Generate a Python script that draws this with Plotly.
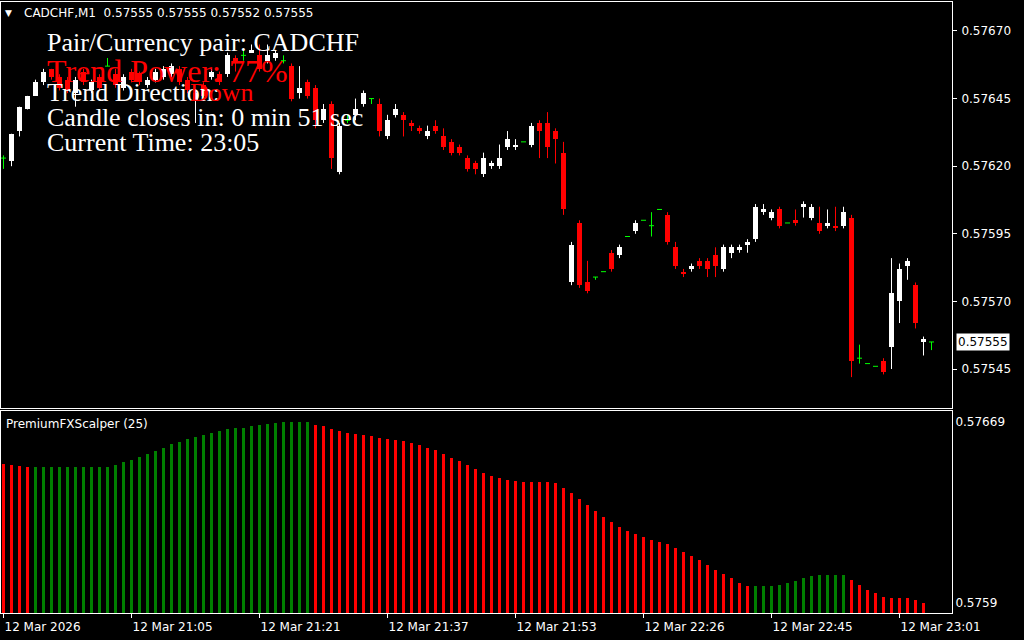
import plotly.graph_objects as go

# ---------------- data ----------------
symbol = "CADCHF,M1"
header_ohlc = ["0.57555", "0.57555", "0.57552", "0.57555"]

opens = [0.57623, 0.57622, 0.57633, 0.57641, 0.57646, 0.57651, 0.57656, 0.57653, 0.57652, 0.57647,
         0.57655, 0.57648, 0.57653, 0.57657, 0.57654, 0.57649, 0.57655, 0.57654, 0.57650, 0.57652,
         0.57653, 0.57654, 0.57656, 0.57652, 0.57644, 0.57650, 0.57653, 0.57654, 0.57654, 0.57660,
         0.57661, 0.57662, 0.57661, 0.57659, 0.57660, 0.57659, 0.57657, 0.57647, 0.57651, 0.57649,
         0.57637, 0.57643, 0.57618, 0.57637, 0.57639, 0.57643, 0.57645, 0.57643, 0.57631, 0.57639,
         0.57639, 0.57636, 0.57634, 0.57631, 0.57635, 0.57631, 0.57629, 0.57627, 0.57623, 0.57621,
         0.57617, 0.57620, 0.57620, 0.57627, 0.57627, 0.57629, 0.57628, 0.57636, 0.57636, 0.57633,
         0.57625, 0.57577, 0.57599, 0.57577, 0.57579, 0.57581, 0.57588, 0.57587, 0.57594, 0.57596,
         0.57600, 0.57598, 0.57604, 0.57602, 0.57590, 0.57581, 0.57582, 0.57585, 0.57585, 0.57587,
         0.57582, 0.57588, 0.57589, 0.57591, 0.57593, 0.57603, 0.57601, 0.57604, 0.57599, 0.57600,
         0.57605, 0.57601, 0.57599, 0.57598, 0.57598, 0.57598, 0.57601, 0.57549, 0.57547, 0.57546,
         0.57548, 0.57553, 0.57570, 0.57583, 0.57576, 0.57555, 0.57555]
highs = [0.57624, 0.57632, 0.57642, 0.57646, 0.57652, 0.57656, 0.57656, 0.57654, 0.57653, 0.57653,
         0.57656, 0.57652, 0.57654, 0.57660, 0.57656, 0.57654, 0.57656, 0.57655, 0.57653, 0.57656,
         0.57657, 0.57658, 0.57657, 0.57653, 0.57648, 0.57651, 0.57656, 0.57655, 0.57662, 0.57661,
         0.57663, 0.57665, 0.57665, 0.57665, 0.57663, 0.57661, 0.57658, 0.57657, 0.57652, 0.57650,
         0.57643, 0.57644, 0.57636, 0.57639, 0.57645, 0.57648, 0.57645, 0.57645, 0.57639, 0.57643,
         0.57640, 0.57637, 0.57635, 0.57635, 0.57637, 0.57634, 0.57630, 0.57628, 0.57624, 0.57622,
         0.57625, 0.57622, 0.57628, 0.57633, 0.57630, 0.57629, 0.57636, 0.57637, 0.57640, 0.57634,
         0.57629, 0.57592, 0.57600, 0.57585, 0.57579, 0.57581, 0.57589, 0.57591, 0.57594, 0.57600,
         0.57600, 0.57603, 0.57604, 0.57603, 0.57592, 0.57582, 0.57584, 0.57586, 0.57586, 0.57590,
         0.57591, 0.57591, 0.57591, 0.57593, 0.57606, 0.57606, 0.57604, 0.57605, 0.57599, 0.57604,
         0.57607, 0.57606, 0.57605, 0.57604, 0.57605, 0.57605, 0.57602, 0.57554, 0.57547, 0.57546,
         0.57549, 0.57586, 0.57584, 0.57586, 0.57577, 0.57557, 0.57555]
lows = [0.57619, 0.57620, 0.57631, 0.57641, 0.57646, 0.57650, 0.57652, 0.57648, 0.57647, 0.57642,
        0.57650, 0.57647, 0.57648, 0.57657, 0.57649, 0.57648, 0.57651, 0.57650, 0.57649, 0.57651,
        0.57652, 0.57653, 0.57650, 0.57647, 0.57636, 0.57645, 0.57652, 0.57650, 0.57653, 0.57655,
        0.57659, 0.57662, 0.57655, 0.57658, 0.57659, 0.57658, 0.57644, 0.57645, 0.57645, 0.57634,
        0.57636, 0.57619, 0.57617, 0.57636, 0.57637, 0.57642, 0.57643, 0.57631, 0.57630, 0.57638,
        0.57631, 0.57633, 0.57632, 0.57630, 0.57632, 0.57626, 0.57624, 0.57624, 0.57618, 0.57617,
        0.57616, 0.57619, 0.57619, 0.57626, 0.57626, 0.57629, 0.57627, 0.57623, 0.57623, 0.57621,
        0.57602, 0.57576, 0.57575, 0.57573, 0.57578, 0.57581, 0.57581, 0.57586, 0.57594, 0.57595,
        0.57600, 0.57594, 0.57604, 0.57591, 0.57582, 0.57579, 0.57581, 0.57582, 0.57579, 0.57579,
        0.57581, 0.57586, 0.57588, 0.57588, 0.57592, 0.57602, 0.57600, 0.57597, 0.57599, 0.57598,
        0.57601, 0.57600, 0.57595, 0.57597, 0.57596, 0.57597, 0.57542, 0.57547, 0.57547, 0.57546,
        0.57543, 0.57545, 0.57562, 0.57578, 0.57560, 0.57550, 0.57552]
closes = [0.57623, 0.57632, 0.57642, 0.57646, 0.57651, 0.57655, 0.57653, 0.57649, 0.57648, 0.57652,
          0.57651, 0.57651, 0.57649, 0.57657, 0.57650, 0.57653, 0.57652, 0.57651, 0.57652, 0.57655,
          0.57656, 0.57657, 0.57651, 0.57648, 0.57647, 0.57646, 0.57655, 0.57651, 0.57661, 0.57659,
          0.57661, 0.57663, 0.57656, 0.57661, 0.57662, 0.57659, 0.57645, 0.57649, 0.57646, 0.57637,
          0.57641, 0.57623, 0.57635, 0.57637, 0.57641, 0.57647, 0.57645, 0.57633, 0.57637, 0.57641,
          0.57637, 0.57635, 0.57633, 0.57633, 0.57633, 0.57627, 0.57625, 0.57625, 0.57619, 0.57619,
          0.57623, 0.57621, 0.57623, 0.57630, 0.57628, 0.57629, 0.57635, 0.57633, 0.57627, 0.57630,
          0.57604, 0.57591, 0.57576, 0.57574, 0.57579, 0.57581, 0.57582, 0.57590, 0.57594, 0.57599,
          0.57600, 0.57598, 0.57604, 0.57592, 0.57583, 0.57580, 0.57583, 0.57583, 0.57582, 0.57583,
          0.57590, 0.57590, 0.57590, 0.57592, 0.57605, 0.57604, 0.57603, 0.57598, 0.57599, 0.57599,
          0.57606, 0.57605, 0.57596, 0.57599, 0.57597, 0.57603, 0.57548, 0.57549, 0.57547, 0.57546,
          0.57544, 0.57573, 0.57582, 0.57585, 0.57562, 0.57556, 0.57555]

scalper_values = [0.576505, 0.576502, 0.576498, 0.576494, 0.576494, 0.576494, 0.576494, 0.576494,
                  0.576494, 0.576494, 0.576494, 0.576494, 0.576494, 0.576494, 0.576502, 0.576515,
                  0.576526, 0.576537, 0.576550, 0.576563, 0.576577, 0.576594, 0.576603, 0.576616,
                  0.576625, 0.576633, 0.576643, 0.576651, 0.576659, 0.576664, 0.576664, 0.576673,
                  0.576677, 0.576681, 0.576686, 0.576690, 0.576690, 0.576690, 0.576690, 0.576677,
                  0.576673, 0.576659, 0.576651, 0.576642, 0.576638, 0.576633, 0.576629, 0.576620,
                  0.576616, 0.576611, 0.576607, 0.576598, 0.576590, 0.576577, 0.576568, 0.576550,
                  0.576533, 0.576520, 0.576502, 0.576485, 0.576467, 0.576454, 0.576446, 0.576437,
                  0.576433, 0.576428, 0.576428, 0.576428, 0.576428, 0.576424, 0.576402, 0.576380,
                  0.576354, 0.576328, 0.576302, 0.576275, 0.576254, 0.576232, 0.576214, 0.576201,
                  0.576188, 0.576175, 0.576166, 0.576158, 0.576140, 0.576123, 0.576105, 0.576088,
                  0.576066, 0.576044, 0.576027, 0.576009, 0.575987, 0.575974, 0.575974, 0.575974,
                  0.575974, 0.575979, 0.575987, 0.575996, 0.576009, 0.576018, 0.576022, 0.576022,
                  0.576022, 0.576022, 0.576000, 0.575979, 0.575957, 0.575944, 0.575926, 0.575922,
                  0.575922, 0.575922, 0.575913, 0.575900]
scalper_trend_runs = [("down", 4), ("up", 35), ("down", 55), ("up", 12), ("down", 10)]

time_tick_bars = [0, 16, 32, 48, 64, 80, 96, 112]
time_tick_labels = ["12 Mar 2026", "12 Mar 21:05", "12 Mar 21:21", "12 Mar 21:37",
                    "12 Mar 21:53", "12 Mar 22:26", "12 Mar 22:45", "12 Mar 23:01"]
price_ticks = [0.57670, 0.57645, 0.57620, 0.57595, 0.57570, 0.57545]
sub_ticks = [0.57669, 0.5759]
sub_tick_labels = ["0.57669", "0.5759"]
current_price = 0.57555

info_pair = "Pair/Currency pair: CADCHF"
info_power = "Trend Power: 77%"
info_dir = "Trend Direction:"
info_dir_val = "Down"
info_close = "Candle closes in: 0 min 51 sec"
info_time = "Current Time: 23:05"
indicator_name = "PremiumFXScalper (25)"

# ---------------- styling ----------------
W, H = 1024, 640
BULL, BEAR, DOJI = "#FFFFFF", "#FF0000", "#00FF00"
HUP, HDOWN = "#008000", "#FF0000"
AXF = "DejaVu Sans"
SERIF = "Liberation Serif"
body_w = 0.625
half = body_w / 2

def py(px):
    return 1 - px / H

def pxx(px):
    return px / W

n = len(opens)
idx = list(range(n))

fig = go.Figure()

# wicks
wick = {BULL: ([], []), BEAR: ([], []), DOJI: ([], [])}
for i in idx:
    o, h, l, c = opens[i], highs[i], lows[i], closes[i]
    col = BULL if c > o else (BEAR if c < o else DOJI)
    if h > l:
        wick[col][0].extend([i, i, None])
        wick[col][1].extend([l, h, None])
for col, (xs, ys) in wick.items():
    fig.add_trace(go.Scatter(x=xs, y=ys, mode="lines", line=dict(color=col, width=1),
                             hoverinfo="skip", showlegend=False, xaxis="x", yaxis="y"))

# bodies
bx, bbase, bh, bcol = [], [], [], []
for i in idx:
    o, c = opens[i], closes[i]
    if c == o:
        continue
    bx.append(i)
    bbase.append(min(o, c))
    bh.append(abs(c - o))
    bcol.append(BULL if c > o else BEAR)
fig.add_trace(go.Bar(x=bx, y=bh, base=bbase, width=body_w, marker=dict(color=bcol, line=dict(width=0)),
                     hoverinfo="skip", showlegend=False, xaxis="x", yaxis="y"))

# doji dashes
dx, dy = [], []
for i in idx:
    if opens[i] == closes[i]:
        dx.extend([i - half, i + half, None])
        dy.extend([opens[i], opens[i], None])
fig.add_trace(go.Scatter(x=dx, y=dy, mode="lines", line=dict(color=DOJI, width=1),
                         hoverinfo="skip", showlegend=False, xaxis="x", yaxis="y"))

# indicator histogram
hcol = []
for d, cnt in scalper_trend_runs:
    hcol.extend([HUP if d == "up" else HDOWN] * cnt)
sub_range = [0.575856, 0.576738]
fig.add_trace(go.Bar(x=list(range(len(scalper_values))),
                     y=[v - sub_range[0] for v in scalper_values], base=sub_range[0],
                     width=0.375, marker=dict(color=hcol, line=dict(width=0)),
                     hoverinfo="skip", showlegend=False, xaxis="x2", yaxis="y2"))

xr = [-0.3125, 118.5625]
xdom = [pxx(1), pxx(952)]
axcommon = dict(showgrid=False, zeroline=False, showline=True, mirror=True,
                linecolor="#FFFFFF", linewidth=1, automargin=False)

fig.update_layout(
    width=W, height=H,
    margin=dict(l=0, r=0, t=0, b=0, autoexpand=False),
    paper_bgcolor="#000000", plot_bgcolor="#000000",
    barmode="overlay", bargap=0,
    showlegend=False,
    font=dict(family=AXF, size=12, color="#FFFFFF"),
    xaxis=dict(domain=xdom, range=xr, anchor="y", showticklabels=False, ticks="", **axcommon),
    yaxis=dict(domain=[py(408), py(2)], range=[0.5753058, 0.5768072], side="right", anchor="x",
               tickvals=price_ticks, ticktext=[f"{v:.5f}" for v in price_ticks],
               ticks="outside", ticklen=4, tickcolor="#FFFFFF", ticklabelstandoff=2,
               tickfont=dict(family=AXF, size=12, color="#FFFFFF"), **axcommon),
    xaxis2=dict(domain=xdom, range=xr, anchor="y2", matches="x",
                tickvals=time_tick_bars, ticktext=time_tick_labels,
                ticks="outside", ticklen=4, tickcolor="#FFFFFF",
                ticklabelposition="outside right", ticklabelstandoff=3,
                tickfont=dict(family=AXF, size=12, color="#FFFFFF"), **axcommon),
    yaxis2=dict(domain=[py(613), py(411)], range=sub_range, side="right", anchor="x2",
                tickvals=sub_ticks, ticktext=sub_tick_labels, ticks="",
                tickfont=dict(family=AXF, size=12, color="#FFFFFF"), **axcommon),
)

ann = []
def txt(x, y, s, size, color, family, yref="paper", bg=None):
    d = dict(x=x, y=y, xref="paper", yref=yref, text=s, showarrow=False,
             xanchor="left", yanchor="middle",
             font=dict(family=family, size=size, color=color))
    if bg:
        d["bgcolor"] = bg
        d["borderpad"] = 1
    ann.append(d)

txt(pxx(3), py(13), "▼", 9, "#FFFFFF", AXF)
txt(pxx(22), py(13), symbol + "  " + " ".join(header_ohlc), 12, "#FFFFFF", AXF)
txt(pxx(45), py(42), info_pair, 26, "#FFFFFF", SERIF)
txt(pxx(45), py(71), info_power, 32, "#FF0000", SERIF)
txt(pxx(45), py(92), info_dir, 26, "#FFFFFF", SERIF)
txt(pxx(188), py(92), info_dir_val, 26, "#FF0000", SERIF)
txt(pxx(45), py(117), info_close, 26, "#FFFFFF", SERIF)
txt(pxx(45), py(142), info_time, 26, "#FFFFFF", SERIF)
txt(pxx(4), py(424), indicator_name, 12, "#FFFFFF", AXF)
txt(pxx(956), current_price, f"{current_price:.5f}", 12, "#000000", AXF, yref="y", bg="#FFFFFF")
fig.update_layout(annotations=ann)

fig.write_html("out.html", config={"displayModeBar": False},
               post_script="document.body.style.margin='0';document.body.style.overflow='hidden';")
